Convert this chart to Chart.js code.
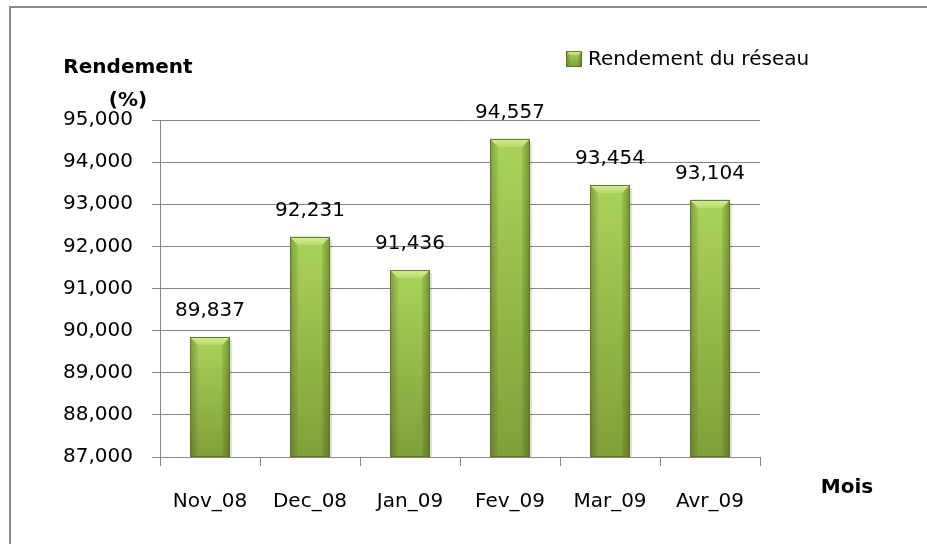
<!DOCTYPE html>
<html lang="fr">
<head>
<meta charset="utf-8">
<title>Rendement du réseau</title>
<script src="https://cdn.jsdelivr.net/npm/chart.js@4.4.1/dist/chart.umd.min.js"></script>
<style>
  html, body { margin: 0; padding: 0; background: #ffffff; }
  #wrap { width: 927px; height: 544px; }
</style>
</head>
<body>
<div id="wrap"><canvas id="c" width="927" height="544"></canvas></div>
<script>
// Monthly network efficiency (%)
const months = ['Nov_08', 'Dec_08', 'Jan_09', 'Fev_09', 'Mar_09', 'Avr_09'];
const rendement = [89.837, 92.231, 91.436, 94.557, 93.454, 93.104];
const seriesName = 'Rendement du réseau';
const yMin = 87;
const yMax = 95;
const yStep = 1;
const yTitleLines = ['Rendement', '(%)'];
const xTitle = 'Mois';

const FONT = '"DejaVu Sans", "Liberation Sans", sans-serif';
const GRID = '#868686';

const frFmt = v => Number(v).toFixed(3).replace('.', ',');

// Green bevelled bar face
function drawBevelBox(ctx, L, T, R, B, b) {
  const g = ctx.createLinearGradient(0, T, 0, B);
  g.addColorStop(0, '#a9d35a');
  g.addColorStop(1, '#809f39');
  ctx.fillStyle = g;
  ctx.fillRect(L, T, R - L, B - T);

  const bb = Math.min(b, (R - L) / 2, (B - T) / 2);
  // top bevel
  const gt = ctx.createLinearGradient(0, T, 0, T + bb);
  gt.addColorStop(0, '#d2ec95');
  gt.addColorStop(1, '#b6dc6b');
  ctx.fillStyle = gt;
  ctx.beginPath();
  ctx.moveTo(L, T); ctx.lineTo(R, T); ctx.lineTo(R - bb, T + bb); ctx.lineTo(L + bb, T + bb);
  ctx.closePath(); ctx.fill();
  // left bevel
  const gl = ctx.createLinearGradient(L, 0, L + bb, 0);
  gl.addColorStop(0, 'rgba(70,95,20,0.45)');
  gl.addColorStop(1, 'rgba(70,95,20,0.08)');
  ctx.fillStyle = gl;
  ctx.beginPath();
  ctx.moveTo(L, T); ctx.lineTo(L + bb, T + bb); ctx.lineTo(L + bb, B); ctx.lineTo(L, B);
  ctx.closePath(); ctx.fill();
  // right bevel
  const gr = ctx.createLinearGradient(R - bb, 0, R, 0);
  gr.addColorStop(0, 'rgba(60,85,15,0.10)');
  gr.addColorStop(1, 'rgba(60,85,15,0.50)');
  ctx.fillStyle = gr;
  ctx.beginPath();
  ctx.moveTo(R, T); ctx.lineTo(R, B); ctx.lineTo(R - bb, B); ctx.lineTo(R - bb, T + bb);
  ctx.closePath(); ctx.fill();
  // outline
  ctx.strokeStyle = 'rgba(90,115,35,0.9)';
  ctx.lineWidth = 1;
  ctx.strokeRect(L + 0.5, T + 0.5, R - L - 1, B - T - 1);
}

const decorPlugin = {
  id: 'decor',
  beforeDraw(chart) {
    const ctx = chart.ctx;
    ctx.save();
    ctx.fillStyle = '#ffffff';
    ctx.fillRect(0, 0, chart.width, chart.height);
    // outer frame (top and left edges)
    ctx.strokeStyle = '#8a8a8a';
    ctx.lineWidth = 2;
    ctx.beginPath();
    ctx.moveTo(10, chart.height);
    ctx.lineTo(10, 7);
    ctx.lineTo(chart.width, 7);
    ctx.stroke();
    ctx.restore();
  },
  afterDatasetsDraw(chart) {
    const ctx = chart.ctx;
    const area = chart.chartArea;
    const meta = chart.getDatasetMeta(0);
    ctx.save();
    meta.data.forEach((el, i) => {
      const p = el.getProps(['x', 'y', 'base', 'width'], true);
      const L = Math.round(p.x - p.width / 2), R = Math.round(p.x + p.width / 2);
      const T = Math.round(Math.max(p.y, area.top));
      const B = Math.round(Math.min(p.base, area.bottom));
      // soft shadow
      ctx.fillStyle = 'rgba(0,0,0,0.12)';
      ctx.fillRect(R, T + 3, 2, B - T - 3);
      drawBevelBox(ctx, L, T, R, B, 8);
      // value label
      ctx.fillStyle = '#000000';
      ctx.font = '20px ' + FONT;
      ctx.textAlign = 'center';
      ctx.textBaseline = 'middle';
      ctx.fillText(frFmt(chart.data.datasets[0].data[i]), p.x, T - 26);
    });
    ctx.restore();
  },
  afterDraw(chart) {
    const ctx = chart.ctx;
    const area = chart.chartArea;
    ctx.save();
    ctx.fillStyle = '#000000';
    // axis titles
    ctx.font = 'bold 20px ' + FONT;
    ctx.textAlign = 'center';
    ctx.textBaseline = 'middle';
    ctx.fillText(yTitleLines[0], 128, 68);
    ctx.fillText(yTitleLines[1], 128, 101);
    ctx.fillText(xTitle, area.right + 87, 488);
    // legend
    drawBevelBox(ctx, 566, 51, 582, 67, 4);
    ctx.font = '20px ' + FONT;
    ctx.textAlign = 'left';
    ctx.fillStyle = '#000000';
    ctx.fillText(seriesName, 588, 60);
    ctx.restore();
  }
};

new Chart(document.getElementById('c'), {
  type: 'bar',
  data: {
    labels: months,
    datasets: [{
      label: seriesName,
      data: rendement,
      backgroundColor: '#98c24a',
      borderWidth: 0,
      barPercentage: 0.8,
      categoryPercentage: 0.5
    }]
  },
  plugins: [decorPlugin],
  options: {
    responsive: false,
    devicePixelRatio: 1,
    animation: false,
    layout: { padding: { top: 120, left: 0, right: 167, bottom: 0 } },
    plugins: {
      legend: { display: false },
      tooltip: { enabled: false },
      title: { display: false }
    },
    scales: {
      x: {
        afterFit: s => { s.height = 87; },
        grid: {
          offset: true,
          drawOnChartArea: false,
          drawTicks: true,
          tickLength: 9,
          color: GRID,
          lineWidth: 1
        },
        border: { display: true, color: GRID, width: 1 },
        ticks: {
          color: '#000000',
          font: { family: FONT, size: 20 },
          padding: 24,
          maxRotation: 0,
          autoSkip: false
        }
      },
      y: {
        min: yMin,
        max: yMax,
        afterFit: s => { s.width = 160; },
        grid: {
          color: GRID,
          lineWidth: 1,
          drawTicks: true,
          tickLength: 8
        },
        border: { display: true, color: GRID, width: 1 },
        ticks: {
          stepSize: yStep,
          color: '#000000',
          font: { family: FONT, size: 20 },
          padding: 19,
          callback: v => frFmt(v)
        }
      }
    }
  }
});
</script>
</body>
</html>
